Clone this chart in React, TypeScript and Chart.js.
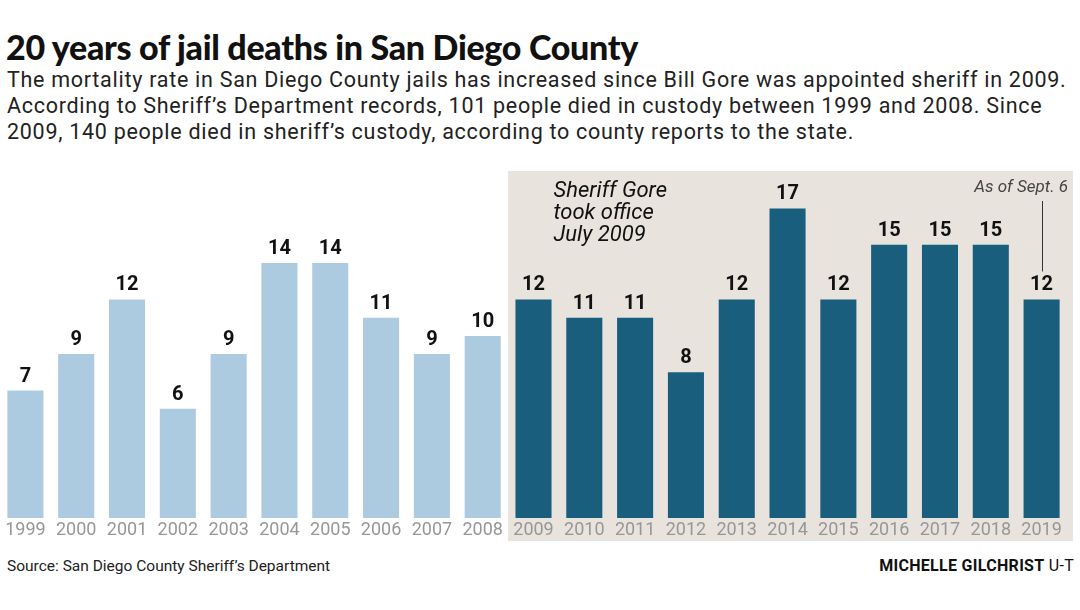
import React, { useEffect, useRef } from "react";
import { Chart, registerables } from "chart.js";

Chart.register(...registerables);

const years = ["1999","2000","2001","2002","2003","2004","2005","2006","2007","2008","2009","2010","2011","2012","2013","2014","2015","2016","2017","2018","2019"];
const deaths = [7, 9, 12, 6, 9, 14, 14, 11, 9, 10, 12, 11, 11, 8, 12, 17, 12, 15, 15, 15, 12];
const goreStartYear = "2009";
const noteLines = ["Sheriff Gore", "took office", "July 2009"];
const asOfNote = "As of Sept. 6";

const LIGHT = "#adcbe0";
const DARK = "#1a5e7d";
const BEIGE = "#e8e3dd";

const overlayPlugin = {
  id: "overlay",
  beforeDraw(chart: any) {
    const { ctx, chartArea, scales } = chart;
    const x = scales.x;
    const y = scales.y;
    const startIdx = years.indexOf(goreStartYear);
    const left = (x.getPixelForValue(startIdx - 1) + x.getPixelForValue(startIdx)) / 2;
    const right = chartArea.right + 6;
    const top = chartArea.top - 1;
    const bottom = y.getPixelForValue(0) + 23;
    ctx.save();
    ctx.fillStyle = BEIGE;
    ctx.fillRect(left, top, right - left, bottom - top);
    ctx.restore();
  },
  afterDatasetsDraw(chart: any) {
    const { ctx, chartArea, scales } = chart;
    const x = scales.x;
    const y = scales.y;
    ctx.save();
    ctx.font = "bold 20px Roboto";
    ctx.fillStyle = "#111";
    ctx.textAlign = "center";
    ctx.textBaseline = "alphabetic";
    deaths.forEach((v, i) => {
      ctx.fillText(String(v), x.getPixelForValue(i), y.getPixelForValue(v) - 9);
    });
    const startIdx = years.indexOf(goreStartYear);
    ctx.font = "italic 22px Roboto";
    ctx.fillStyle = "#111";
    ctx.textAlign = "left";
    ctx.textBaseline = "middle";
    noteLines.forEach((t, k) => {
      ctx.fillText(t, x.getPixelForValue(startIdx) + 20, chartArea.top + 19 + k * 22);
    });
    const last = years.length - 1;
    ctx.font = "italic 17px Roboto";
    ctx.fillStyle = "#444";
    ctx.textAlign = "right";
    ctx.fillText(asOfNote, chartArea.right + 1, chartArea.top + 16);
    const lx = Math.round(x.getPixelForValue(last)) + 0.5;
    ctx.strokeStyle = "#333";
    ctx.lineWidth = 1;
    ctx.beginPath();
    ctx.moveTo(lx, chartArea.top + 29);
    ctx.lineTo(lx, y.getPixelForValue(deaths[last]) - 28);
    ctx.stroke();
    ctx.restore();
  },
};

export default function App() {
  const ref = useRef<HTMLCanvasElement | null>(null);
  useEffect(() => {
    if (!ref.current) return;
    const chart = new Chart(ref.current, {
      type: "bar",
      data: {
        labels: years,
        datasets: [
          {
            data: deaths,
            backgroundColor: years.map((yr) => (yr >= goreStartYear ? DARK : LIGHT)),
            barPercentage: 0.71,
            categoryPercentage: 1,
          },
        ],
      },
      options: {
        animation: false,
        responsive: false,
        maintainAspectRatio: false,
        layout: { padding: { left: 0, right: 13, top: 22, bottom: 0 } },
        plugins: { legend: { display: false }, tooltip: { enabled: false } },
        scales: {
          x: {
            grid: { display: false, drawTicks: false },
            border: { display: false },
            ticks: { color: "#979797", font: { family: "Roboto", size: 18, weight: "normal" }, padding: 2, maxRotation: 0, autoSkip: false },
            afterFit: (s: any) => { s.height = 32; },
          },
          y: {
            display: false,
            min: 0,
            max: 19,
          },
        },
      },
      plugins: [overlayPlugin],
    });
    return () => chart.destroy();
  }, []);

  return (
    <div style={{ position: "absolute", left: 0, top: 0, width: 1080, height: 610, background: "#fff", fontFamily: "Roboto", color: "#111" }}>
      <div style={{ position: "absolute", left: 6, top: 28, fontFamily: "Lato", fontWeight: 900, fontSize: 34, lineHeight: "38px", whiteSpace: "nowrap", letterSpacing: -0.3 }}>
        20 years of jail deaths in San Diego County
      </div>
      <div style={{ position: "absolute", left: 7, top: 67, fontSize: 21.5, lineHeight: "26px", whiteSpace: "nowrap", color: "#222", letterSpacing: 0.72 }}>
        The mortality rate in San Diego County jails has increased since Bill Gore was appointed sheriff in 2009.<br />
        According to Sheriff’s Department records, 101 people died in custody between 1999 and 2008. Since<br />
        2009, 140 people died in sheriff’s custody, according to county reports to the state.
      </div>
      <canvas ref={ref} width={1080} height={400} style={{ position: "absolute", left: 0, top: 150, width: 1080, height: 400 }} />
      <div style={{ position: "absolute", left: 7, top: 557, fontSize: 15.5, lineHeight: "18px", whiteSpace: "nowrap", color: "#222" }}>
        Source: San Diego County Sheriff’s Department
      </div>
      <div style={{ position: "absolute", right: 6, top: 557, fontSize: 16, lineHeight: "18px", whiteSpace: "nowrap", color: "#111", letterSpacing: 0.3 }}>
        <span style={{ fontWeight: 700 }}>MICHELLE GILCHRIST</span> U-T
      </div>
    </div>
  );
}
